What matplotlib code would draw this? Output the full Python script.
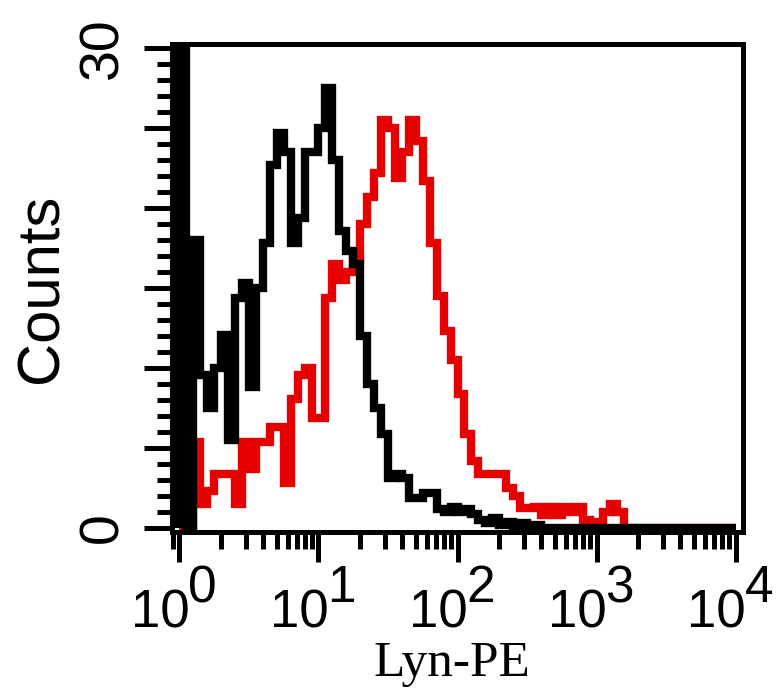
import numpy as np
import matplotlib.pyplot as plt
from matplotlib.ticker import FixedLocator, LogLocator, NullFormatter

# histogram bins: 0.05 decade wide, starting at 10^0
bin_width = 0.05
black_counts = [60, 0, 18, 9.6, 7.5, 10, 12.1, 5.5, 14.4, 15.3,
                8.8, 15, 17.8, 22.7, 24.7, 23.5, 17.8, 19.4, 23.5, 23.5,
                25, 27.5, 23, 18.6, 17.3, 16.5, 12, 9, 7.5, 5.9,
                3.1, 3.4, 3.1, 1.9, 1.9, 2.2, 2.2, 1.2, 1.0, 1.3,
                1.0, 1.2, 0.9, 0.5, 0.3, 0.6, 0.2, 0.4, 0, 0.3,
                0, 0.2, 0, 0, 0, 0, 0, 0, 0, 0,
                0, 0, 0, 0, 0, 0, 0, 0, 0, 0,
                0, 0, 0, 0, 0, 0, 0, 0, 0, 0]
red_counts = [0, 0, 5.4, 1.5, 2.3, 3.4, 3.4, 3.4, 1.5, 5.4,
              3.7, 5.4, 5.4, 6.3, 6.3, 2.8, 8.1, 9.6, 10, 6.9,
              6.9, 14.4, 16.5, 15.5, 16, 16.9, 19, 20.7, 22.2, 25.5,
              25, 21.9, 23.5, 25.5, 24.2, 21.7, 17.8, 14.5, 12.3, 10.5,
              8.4, 5.9, 4.2, 3.4, 3.4, 3.4, 3.4, 2.5, 2.0, 1.25,
              1.25, 1.3, 0.8, 1.3, 0.8, 1.3, 1.0, 1.3, 0.5, 0.4,
              0.4, 1.0, 1.5, 1.0, 0, 0, 0, 0, 0, 0,
              0, 0, 0, 0, 0, 0, 0, 0, 0, 0]

decades = [0, 1, 2, 3, 4]
y_major = [0, 5, 10, 15, 20, 25, 30]
y_labels = ['0', '', '', '', '', '', '30']

edges = 10 ** (bin_width * np.arange(len(black_counts) + 1))

fig = plt.figure(figsize=(7.83, 6.92), dpi=100)
ax = fig.add_axes([0.2203, 0.2305, 0.728, 0.7052])

for counts, col in [(red_counts, '#e60000'), (black_counts, 'black')]:
    st = ax.stairs(counts, edges, baseline=0, color=col, lw=6)
    st.set_joinstyle('miter')
    st.set_capstyle('butt')

ax.set_xscale('log')
ax.set_xlim(10 ** -0.05, 10 ** 4.05)
ax.set_ylim(-0.28, 30.25)

for sp in ax.spines.values():
    sp.set_linewidth(3.6)

# x axis: decades with minor ticks, labels drawn as 10 + raised exponent
ax.xaxis.set_major_locator(FixedLocator([10.0 ** d for d in decades]))
ax.xaxis.set_minor_locator(LogLocator(base=10, subs=np.arange(2, 10), numticks=20))
ax.xaxis.set_major_formatter(NullFormatter())
ax.xaxis.set_minor_formatter(NullFormatter())
ax.tick_params(axis='x', which='major', length=21.5, width=3.6, direction='out')
ax.tick_params(axis='x', which='minor', length=12.5, width=3.6, direction='out')

for d in decades:
    ax.annotate('10', xy=(10.0 ** d, 0), xycoords=('data', 'axes fraction'),
                xytext=(10, -95), textcoords='offset pixels',
                ha='right', va='baseline', fontsize=38, family='Liberation Sans')
    ax.annotate(str(d), xy=(10.0 ** d, 0), xycoords=('data', 'axes fraction'),
                xytext=(9, -70), textcoords='offset pixels',
                ha='left', va='baseline', fontsize=37, family='Liberation Sans')

# y axis
ax.yaxis.set_major_locator(FixedLocator(y_major))
ax.yaxis.set_minor_locator(FixedLocator(np.arange(0, 31, 1)))
ax.set_yticklabels(y_labels, rotation=90, va='center', fontsize=40, family='Liberation Sans')
ax.tick_params(axis='y', which='major', length=20, width=3.6, direction='out', pad=11)
ax.tick_params(axis='y', which='minor', length=11, width=3.6, direction='out')

ax.set_ylabel('Counts', fontsize=43, family='Liberation Sans')
ax.yaxis.set_label_coords(-0.18, 0.5)
ax.set_xlabel('Lyn-PE', fontsize=37, family='Liberation Serif')
ax.xaxis.set_label_coords(0.49, -0.222)

fig.savefig('out.png', dpi=100)
